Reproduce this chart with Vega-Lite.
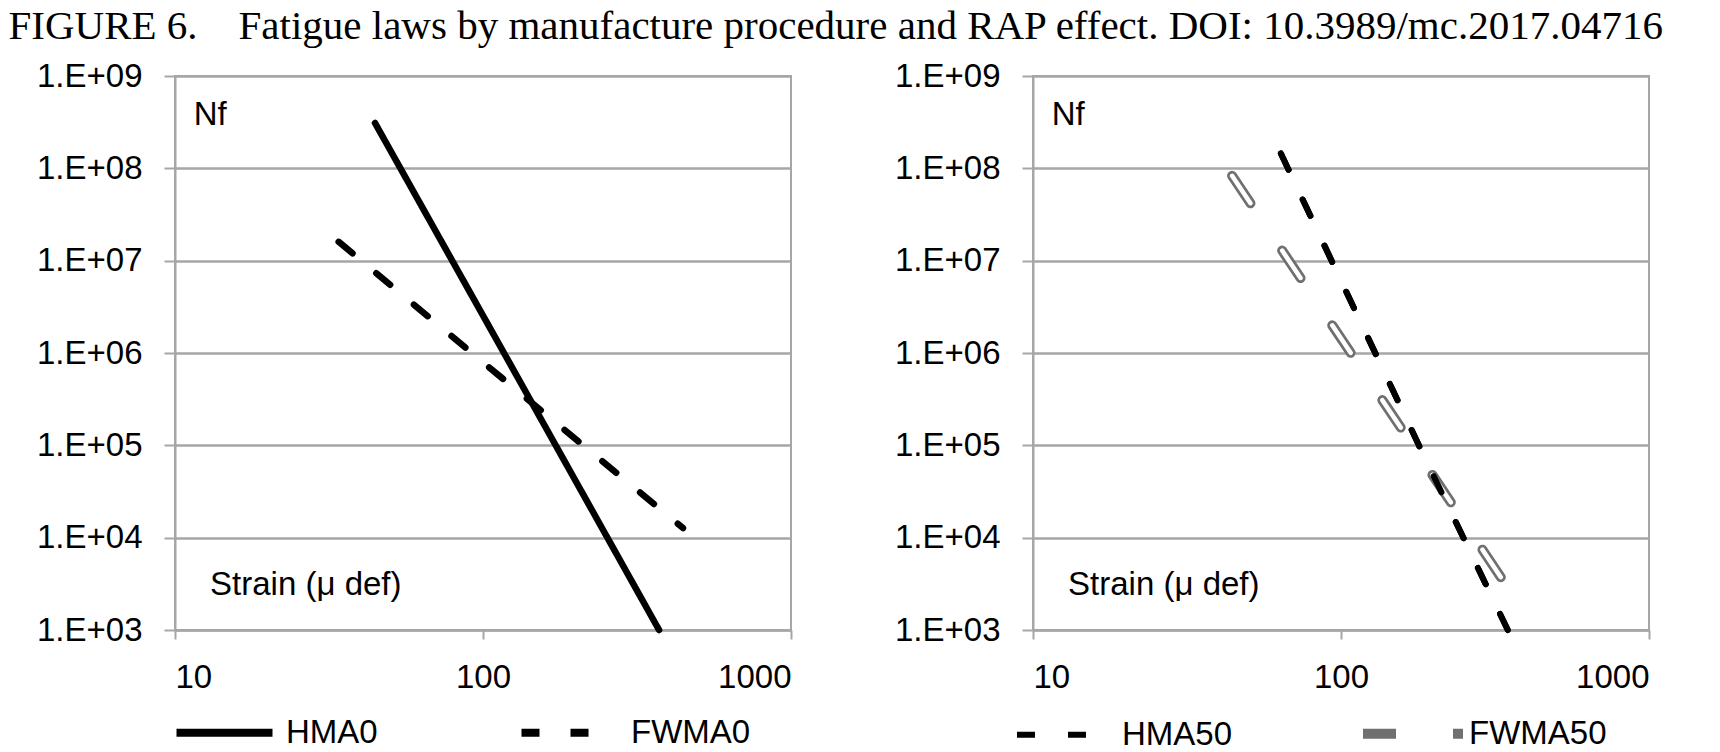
{
  "$schema": "https://vega.github.io/schema/vega-lite/v6.json",
  "padding": {"left": 8, "top": 6, "right": 0, "bottom": 0},
  "title": {
    "text": "FIGURE 6.\u00a0\u00a0\u00a0\u00a0Fatigue laws by manufacture procedure and RAP effect. DOI: 10.3989/mc.2017.04716",
    "anchor": "start",
    "font": "Liberation Serif",
    "fontSize": 41,
    "fontWeight": "normal",
    "color": "black",
    "dx": -27,
    "offset": 11
  },
  "datasets": {
    "left": [
      {"series": "HMA0", "strain": 44.6, "nf": 310000000},
      {"series": "HMA0", "strain": 117, "nf": 1000000},
      {"series": "HMA0", "strain": 373, "nf": 1000},
      {"series": "FWMA0", "strain": 34.0, "nf": 16000000},
      {"series": "FWMA0", "strain": 92, "nf": 1000000},
      {"series": "FWMA0", "strain": 446, "nf": 12700}
    ],
    "right": [
      {"series": "HMA50", "strain": 63.8, "nf": 145000000},
      {"series": "HMA50", "strain": 179, "nf": 100000},
      {"series": "HMA50", "strain": 348, "nf": 1000},
      {"series": "FWMA50", "strain": 44.3, "nf": 83000000},
      {"series": "FWMA50", "strain": 236, "nf": 20000},
      {"series": "FWMA50", "strain": 402, "nf": 1400}
    ],
    "notes": [
      {"strain": 11.5, "nf": 380000000, "label": "Nf"},
      {"strain": 13.0, "nf": 3100, "label": "Strain (μ def)"}
    ]
  },
  "hconcat": [
    {
      "width": 616,
      "height": 554,
      "layer": [
        {
          "data": {"name": "left"},
          "mark": {"type": "line", "strokeWidth": 6.5, "strokeCap": "round"},
          "encoding": {
            "x": {
              "field": "strain",
              "type": "quantitative",
              "scale": {"type": "log", "domain": [10, 1000], "nice": false},
              "axis": {"values": [10, 100, 1000], "format": "d"}
            },
            "y": {
              "field": "nf",
              "type": "quantitative",
              "scale": {"type": "log", "domain": [1000, 1000000000], "nice": false},
              "axis": {
                "values": [1000, 10000, 100000, 1000000, 10000000, 100000000, 1000000000],
                "labelExpr": "'1.E+0' + format(log(datum.value) / LN10, '.0f')"
              }
            },
            "color": {
              "field": "series",
              "type": "nominal",
              "scale": {"domain": ["HMA0", "FWMA0"], "range": ["black", "black"]},
              "legend": {"columnPadding": 127, "symbolType": "M-1.2,0H6.48", "labelOffset": 78}
            },
            "strokeDash": {
              "field": "series",
              "type": "nominal",
              "scale": {"domain": ["HMA0", "FWMA0"], "range": [[1, 0], [18, 31]]},
              "legend": {"columnPadding": 127, "symbolType": "M-1.2,0H6.48", "labelOffset": 78}
            }
          }
        },
        {
          "data": {"name": "notes"},
          "mark": {"type": "text", "align": "left", "baseline": "middle", "font": "Liberation Sans", "fontSize": 33, "color": "black"},
          "encoding": {
            "x": {"field": "strain", "type": "quantitative"},
            "y": {"field": "nf", "type": "quantitative"},
            "text": {"field": "label"}
          }
        }
      ]
    },
    {
      "width": 616,
      "height": 554,
      "layer": [
        {
          "data": {"name": "right"},
          "mark": {"type": "line", "strokeCap": "round"},
          "encoding": {
            "x": {
              "field": "strain",
              "type": "quantitative",
              "scale": {"type": "log", "domain": [10, 1000], "nice": false},
              "axis": {"values": [10, 100, 1000], "format": "d"}
            },
            "y": {
              "field": "nf",
              "type": "quantitative",
              "scale": {"type": "log", "domain": [1000, 1000000000], "nice": false},
              "axis": {
                "values": [1000, 10000, 100000, 1000000, 10000000, 100000000, 1000000000],
                "labelExpr": "'1.E+0' + format(log(datum.value) / LN10, '.0f')"
              }
            },
            "color": {
              "field": "series",
              "type": "nominal",
              "scale": {"domain": ["HMA50", "FWMA50"], "range": ["black", "#707070"]},
              "legend": {"columnPadding": 110, "symbolType": "M-2.6,0H5.4", "labelOffset": 56}
            },
            "strokeDash": {
              "field": "series",
              "type": "nominal",
              "scale": {"domain": ["HMA50", "FWMA50"], "range": [[18, 33], [33, 57]]},
              "legend": {"columnPadding": 110, "symbolType": "M-2.6,0H5.4", "labelOffset": 56}
            },
            "strokeWidth": {
              "field": "series",
              "type": "nominal",
              "scale": {"domain": ["HMA50", "FWMA50"], "range": [6, 10]},
              "legend": null
            }
          }
        },
        {
          "data": {"name": "right"},
          "transform": [{"filter": "datum.series === 'FWMA50'"}],
          "mark": {"type": "line", "color": "white", "strokeWidth": 4.5, "strokeDash": [33, 57], "strokeCap": "round"},
          "encoding": {
            "x": {"field": "strain", "type": "quantitative"},
            "y": {"field": "nf", "type": "quantitative"}
          }
        },
        {
          "data": {"name": "right"},
          "transform": [{"filter": "datum.series === 'HMA50'"}],
          "mark": {"type": "line", "color": "black", "strokeWidth": 6, "strokeDash": [18, 33], "strokeCap": "round"},
          "encoding": {
            "x": {"field": "strain", "type": "quantitative"},
            "y": {"field": "nf", "type": "quantitative"}
          }
        },
        {
          "data": {"name": "notes"},
          "mark": {"type": "text", "align": "left", "baseline": "middle", "font": "Liberation Sans", "fontSize": 33, "color": "black"},
          "encoding": {
            "x": {"field": "strain", "type": "quantitative"},
            "y": {"field": "nf", "type": "quantitative"},
            "text": {"field": "label"}
          }
        }
      ]
    }
  ],
  "spacing": 242,
  "bounds": "flush",
  "resolve": {
    "scale": {"color": "independent", "strokeDash": "independent", "strokeWidth": "independent"}
  },
  "config": {
    "background": "white",
    "font": "Liberation Sans",
    "view": {"stroke": "#a6a6a6", "strokeWidth": 2},
    "axis": {
      "title": null,
      "labelFont": "Liberation Sans",
      "labelFontSize": 33,
      "labelColor": "black",
      "tickColor": "#a6a6a6",
      "tickWidth": 2,
      "domainColor": "#a6a6a6",
      "domainWidth": 2,
      "gridColor": "#a6a6a6",
      "gridWidth": 2.5,
      "gridOpacity": 1,
      "labelOverlap": false
    },
    "axisX": {"grid": false, "tickSize": 9, "labelPadding": 22},
    "axisY": {"grid": true, "tickSize": 11, "labelPadding": 22},
    "legend": {
      "orient": "bottom",
      "direction": "horizontal",
      "title": null,
      "offset": 22,
      "labelFont": "Liberation Sans",
      "labelFontSize": 33,
      "labelColor": "black",
      "symbolSize": 625,
      "symbolStrokeWidth": 8
    }
  }
}
